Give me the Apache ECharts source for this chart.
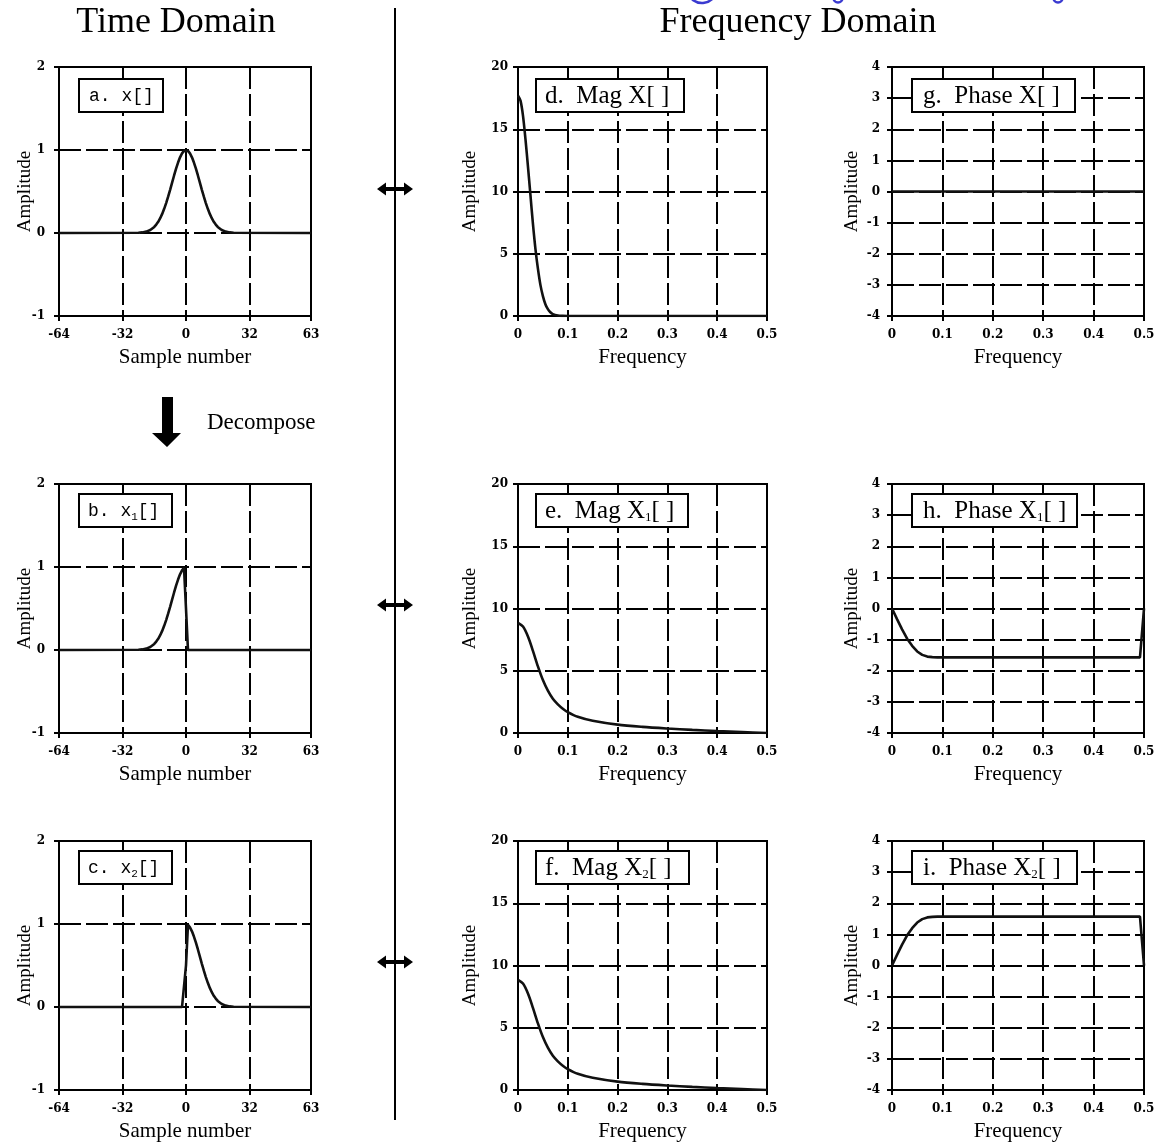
<!DOCTYPE html>
<html>
<head>
<meta charset="utf-8">
<title>Time Domain / Frequency Domain</title>
<script src="https://cdn.jsdelivr.net/npm/echarts@6/dist/echarts.min.js"></script>
<style>
  html, body { margin: 0; padding: 0; background: #fff; }
  #chart { width: 1161px; height: 1144px; }
</style>
</head>
<body>
<div id="chart"></div>
<script>
// ---- time-domain samples ----
const sampleNumbers = [-64,-24,-23,-22,-21,-20,-19,-18,-17,-16,-15,-14,-13,-12,-11,-10,-9,-8,-7,-6,-5,-4,-3,-2,-1,0,
  1,2,3,4,5,6,7,8,9,10,11,12,13,14,15,16,17,18,19,20,21,22,23,24,63];
const xSignal = [0, 0.003,0.005,0.007,0.011,0.017,0.025,0.037,0.052,0.073,0.101,0.135,0.178,0.230,0.291,0.360,0.438,0.520,0.607,0.693,0.775,0.849,0.912,0.960,0.990,
  1, 0.990,0.960,0.912,0.849,0.775,0.693,0.607,0.520,0.438,0.360,0.291,0.230,0.178,0.135,0.101,0.073,0.052,0.037,0.025,0.017,0.011,0.007,0.005,0.003, 0];
const x1Signal = [0, 0.003,0.005,0.007,0.011,0.017,0.025,0.037,0.052,0.073,0.101,0.135,0.178,0.230,0.291,0.360,0.438,0.520,0.607,0.693,0.775,0.849,0.912,0.960,0.990,
  0.5, 0,0,0,0,0,0,0,0,0,0,0,0,0,0,0,0,0,0,0,0,0,0,0,0, 0];
const x2Signal = [0, 0,0,0,0,0,0,0,0,0,0,0,0,0,0,0,0,0,0,0,0,0,0,0,0,
  0.5, 0.990,0.960,0.912,0.849,0.775,0.693,0.607,0.520,0.438,0.360,0.291,0.230,0.178,0.135,0.101,0.073,0.052,0.037,0.025,0.017,0.011,0.007,0.005,0.003, 0];

// ---- frequency-domain values ----
const magXFreq = [0,0.005,0.01,0.015,0.02,0.025,0.03,0.035,0.04,0.045,0.05,0.055,0.06,0.065,0.07,0.08,0.09,0.1,0.5];
const magX     = [17.7,17.3,16.1,14.2,12.0,9.7,7.4,5.4,3.8,2.5,1.6,0.95,0.55,0.3,0.15,0.04,0.01,0,0];

const halfFreq = [0,0.01,0.02,0.03,0.04,0.05,0.06,0.07,0.08,0.09,0.1,0.12,0.15,0.2,0.25,0.3,0.35,0.4,0.45,0.5];
const magX1    = [8.85,8.55,7.75,6.6,5.35,4.25,3.4,2.75,2.3,1.95,1.68,1.3,0.98,0.67,0.49,0.36,0.25,0.16,0.08,0];
const magX2    = [8.85,8.55,7.75,6.6,5.35,4.25,3.4,2.75,2.3,1.95,1.68,1.3,0.98,0.67,0.49,0.36,0.25,0.16,0.08,0];

const phaseFreq = [0,0.01,0.02,0.03,0.04,0.05,0.06,0.07,0.08,0.09,0.1,0.492,0.5];
const phaseX1   = [0,-0.34,-0.67,-0.97,-1.20,-1.38,-1.49,-1.545,-1.562,-1.569,-1.571,-1.571,0];
const phaseX2   = [0,0.34,0.67,0.97,1.20,1.38,1.49,1.545,1.562,1.569,1.571,1.571,0];
const phaseXFreq = [0,0.5];
const phaseX     = [0,0];

// ---- axis ticks ----
const timeTicks  = { min: -64, max: 63, interval: 32 };
const timeAmp    = { min: -1, max: 2, interval: 1 };
const freqTicks  = { min: 0, max: 0.5, interval: 0.1 };
const magAmp     = { min: 0, max: 20, interval: 5 };
const phaseAmp   = { min: -4, max: 4, interval: 1 };

const pairs = (xs, ys) => xs.map((v, i) => [v, ys[i]]);

// layout of the 3x3 plot areas
const cols = [
  { left: 59,  width: 252, yNameGap: 24, yMargin: 14 },
  { left: 518, width: 249, yNameGap: 38, yMargin: 10 },
  { left: 892, width: 252, yNameGap: 30, yMargin: 12 }
];
const rows = [ { top: 67, height: 249 }, { top: 484, height: 249 }, { top: 841, height: 249 } ];

const panels = [
  { r: 0, c: 0, data: pairs(sampleNumbers, xSignal),  xr: timeTicks, yr: timeAmp,  xName: 'Sample number' },
  { r: 1, c: 0, data: pairs(sampleNumbers, x1Signal), xr: timeTicks, yr: timeAmp,  xName: 'Sample number' },
  { r: 2, c: 0, data: pairs(sampleNumbers, x2Signal), xr: timeTicks, yr: timeAmp,  xName: 'Sample number' },
  { r: 0, c: 1, data: pairs(magXFreq, magX),   xr: freqTicks, yr: magAmp, xName: 'Frequency', smooth: true },
  { r: 1, c: 1, data: pairs(halfFreq, magX1),  xr: freqTicks, yr: magAmp, xName: 'Frequency', smooth: true },
  { r: 2, c: 1, data: pairs(halfFreq, magX2),  xr: freqTicks, yr: magAmp, xName: 'Frequency', smooth: true },
  { r: 0, c: 2, data: pairs(phaseXFreq, phaseX), xr: freqTicks, yr: phaseAmp, xName: 'Frequency' },
  { r: 1, c: 2, data: pairs(phaseFreq, phaseX1), xr: freqTicks, yr: phaseAmp, xName: 'Frequency' },
  { r: 2, c: 2, data: pairs(phaseFreq, phaseX2), xr: freqTicks, yr: phaseAmp, xName: 'Frequency' }
];

const serif = '"Liberation Serif", "Times New Roman", serif';
const tickFont = { fontFamily: '"DejaVu Serif", serif', fontSize: 12, fontWeight: 'bold', color: '#000' };
const gridDash = { color: '#000', width: 2, type: [22, 5] };

const grids = [], xAxes = [], yAxes = [], series = [];
panels.forEach((p, i) => {
  const col = cols[p.c], row = rows[p.r];
  grids.push({
    left: col.left, top: row.top, width: col.width, height: row.height,
    show: true, borderColor: '#000', borderWidth: 2, backgroundColor: '#fff',
    containLabel: false, outerBoundsMode: 'none'
  });
  xAxes.push({
    type: 'value', gridIndex: i, min: p.xr.min, max: p.xr.max, interval: p.xr.interval,
    name: p.xName, nameLocation: 'middle', nameGap: 31, nameMoveOverlap: false,
    nameTextStyle: { fontFamily: serif, fontSize: 21, color: '#000' },
    axisLine: { show: true, onZero: false, lineStyle: { color: '#000', width: 2 } },
    axisTick: { show: true, length: 5, lineStyle: { color: '#000', width: 2 } },
    axisLabel: Object.assign({ margin: 13, showMinLabel: true, showMaxLabel: true, hideOverlap: false }, tickFont),
    splitLine: { show: true, lineStyle: gridDash }
  });
  yAxes.push({
    type: 'value', gridIndex: i, min: p.yr.min, max: p.yr.max, interval: p.yr.interval,
    name: 'Amplitude', nameLocation: 'middle', nameGap: col.yNameGap, nameMoveOverlap: false,
    nameTextStyle: { fontFamily: serif, fontSize: 19, color: '#000' },
    axisLine: { show: true, onZero: false, lineStyle: { color: '#000', width: 2 } },
    axisTick: { show: true, length: 5, lineStyle: { color: '#000', width: 2 } },
    axisLabel: Object.assign({ margin: col.yMargin, showMinLabel: true, showMaxLabel: true, hideOverlap: false }, tickFont),
    splitLine: { show: true, lineStyle: gridDash }
  });
  series.push({
    type: 'line', xAxisIndex: i, yAxisIndex: i, data: p.data,
    showSymbol: false, symbol: 'none', smooth: p.smooth ? 0.3 : false,
    lineStyle: { color: '#111', width: 2.6 }, z: 3, silent: true, animation: false
  });
});

// labelled boxes in the upper-left of each plot
const mono = '"Liberation Mono", "Courier New", monospace';
const labelRich = {
  m:  { fontFamily: mono,  fontSize: 18, color: '#000', lineHeight: 22 },
  ms: { fontFamily: mono,  fontSize: 11, color: '#000', lineHeight: 22, verticalAlign: 'bottom' },
  t:  { fontFamily: serif, fontSize: 25, color: '#000', lineHeight: 26 },
  ts: { fontFamily: serif, fontSize: 13, color: '#000', lineHeight: 26, verticalAlign: 'bottom' }
};
const labelBoxes = [
  { x: 79,  y: 79,  w: 84,  h: 33, tx: 89,  text: '{m|a. x[]}' },
  { x: 79,  y: 494, w: 93,  h: 33, tx: 88,  text: '{m|b. x}{ms|1}{m|[]}' },
  { x: 79,  y: 851, w: 93,  h: 33, tx: 88,  text: '{m|c. x}{ms|2}{m|[]}' },
  { x: 536, y: 79,  w: 148, h: 33, tx: 545, text: '{t|d.  Mag X[ ]}' },
  { x: 536, y: 494, w: 152, h: 33, tx: 545, text: '{t|e.  Mag X}{ts|1}{t|[ ]}' },
  { x: 536, y: 851, w: 153, h: 33, tx: 545, text: '{t|f.  Mag X}{ts|2}{t|[ ]}' },
  { x: 912, y: 79,  w: 163, h: 33, tx: 923, text: '{t|g.  Phase X[ ]}' },
  { x: 912, y: 494, w: 165, h: 33, tx: 923, text: '{t|h.  Phase X}{ts|1}{t|[ ]}' },
  { x: 912, y: 851, w: 165, h: 33, tx: 923, text: '{t|i.  Phase X}{ts|2}{t|[ ]}' }
];

const graphics = [];
labelBoxes.forEach(b => {
  graphics.push({ type: 'rect', z: 50, shape: { x: b.x, y: b.y, width: b.w, height: b.h },
    style: { fill: '#fff', stroke: '#000', lineWidth: 2 } });
  graphics.push({ type: 'text', z: 51, x: b.tx, y: b.y + b.h / 2 + 1,
    style: { text: b.text, rich: labelRich, verticalAlign: 'middle', align: 'left' } });
});

// headings
graphics.push({ type: 'text', z: 51, x: 176, y: 23,
  style: { text: 'Time Domain', font: '36px ' + serif, fill: '#000', align: 'center', verticalAlign: 'middle' } });
graphics.push({ type: 'text', z: 51, x: 798, y: 23,
  style: { text: 'Frequency Domain', font: '36px ' + serif, fill: '#000', align: 'center', verticalAlign: 'middle' } });

// blue pen strokes trimmed by the top edge
graphics.push({ type: 'arc', z: 45, shape: { cx: 702, cy: -12, r: 15, startAngle: 0.2 * Math.PI, endAngle: 0.8 * Math.PI },
  style: { stroke: '#3a3ad0', lineWidth: 2.5, fill: null } });
[838, 1058].forEach(cx => {
  graphics.push({ type: 'arc', z: 45, shape: { cx: cx, cy: -2, r: 4.5, startAngle: 0, endAngle: Math.PI },
    style: { stroke: '#3a3ad0', lineWidth: 2.5, fill: null } });
});

// divider between the two domains
graphics.push({ type: 'line', z: 40, shape: { x1: 395, y1: 8, x2: 395, y2: 1120 },
  style: { stroke: '#000', lineWidth: 2 } });

// double arrows linking each signal to its spectrum
[189, 605, 962].forEach(cy => {
  graphics.push({ type: 'polygon', z: 41, x: 395, y: cy,
    shape: { points: [[-18,0],[-9,-6.5],[-9,-2],[9,-2],[9,-6.5],[18,0],[9,6.5],[9,2],[-9,2],[-9,6.5]] },
    style: { fill: '#000' } });
});

// decomposition arrow and caption
graphics.push({ type: 'polygon', z: 41,
  shape: { points: [[162,397],[173,397],[173,433],[181,433],[167,447],[152,433],[162,433]] },
  style: { fill: '#000' } });
graphics.push({ type: 'text', z: 51, x: 207, y: 423,
  style: { text: 'Decompose', font: '23px ' + serif, fill: '#000', align: 'left', verticalAlign: 'middle' } });

const chart = echarts.init(document.getElementById('chart'), null, { renderer: 'canvas' });
chart.setOption({
  backgroundColor: '#fff',
  animation: false,
  grid: grids,
  xAxis: xAxes,
  yAxis: yAxes,
  series: series,
  graphic: { elements: graphics }
});
</script>
</body>
</html>
